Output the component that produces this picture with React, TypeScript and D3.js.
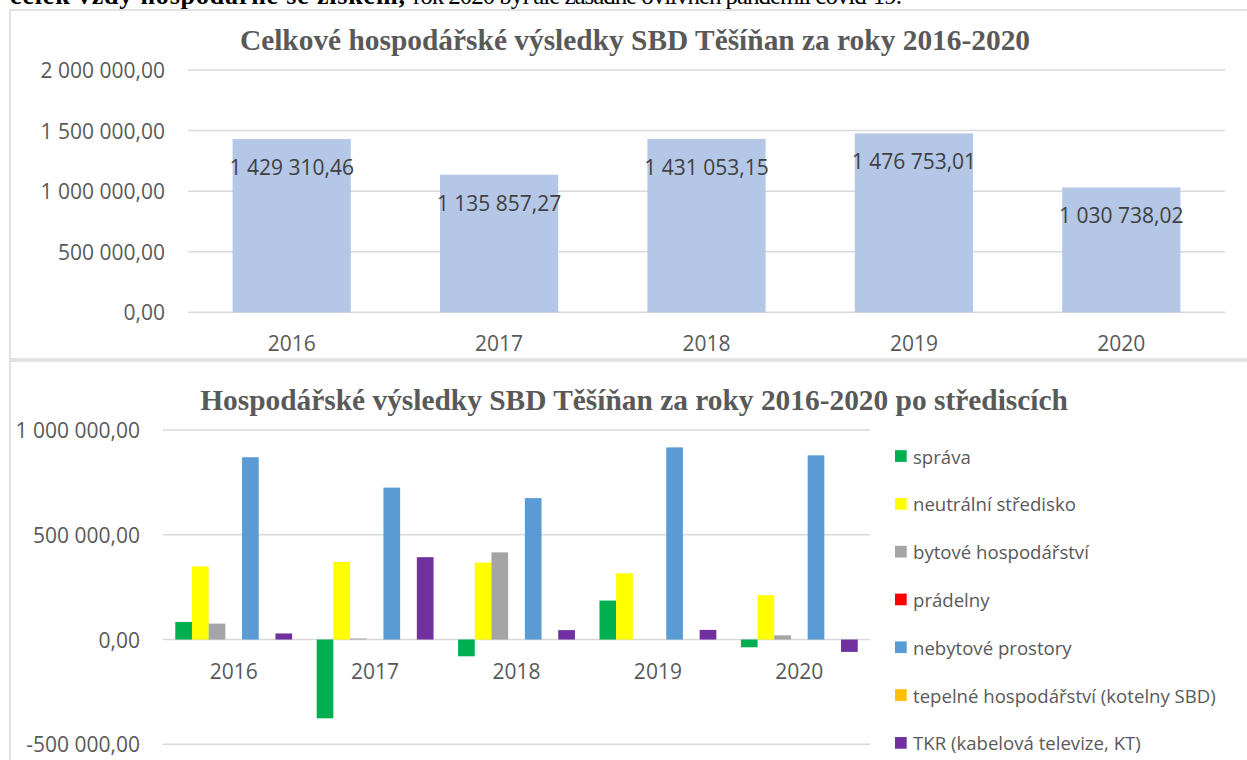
import * as d3 from "d3";

// roky
const years = ["2016", "2017", "2018", "2019", "2020"];

// celkový výsledek
const totals = [1429310.46, 1135857.27, 1431053.15, 1476753.01, 1030738.02];
const totalTicks = [0, 500000, 1000000, 1500000, 2000000];

// střediska
const centres = [
  "správa",
  "neutrální středisko",
  "bytové hospodářství",
  "prádelny",
  "nebytové prostory",
  "tepelné hospodářství (kotelny SBD)",
  "TKR (kabelová televize, KT)",
];
const centreColors = ["#00B050", "#FFFF00", "#A5A5A5", "#FF0000", "#5B9BD5", "#FFC000", "#7030A0"];
const sprava = [84000, -376000, -80000, 186000, -37000];
const neutralni = [349000, 370000, 367000, 316000, 212000];
const bytove = [76000, 5000, 416000, 0, 20000];
const pradelny = [0, 0, 0, 0, 0];
const nebytove = [870000, 725000, 675000, 917000, 879000];
const tepelne = [0, 0, 0, 0, 0];
const tkr = [29000, 393000, 45000, 46000, -59000];
const centreTicks = [-500000, 0, 500000, 1000000];

const W = 1247;
const H = 760;
const grid = "#D9D9D9";
const txt = "#595959";
const sans = "'Open Sans', sans-serif";
const serif = "'Liberation Serif', 'Times New Roman', serif";
const fs = 21; // čísla, roky
const fsLeg = 18.6;
const fsTitle = 29.4;

const cz = d3.formatLocale({ decimal: ",", thousands: "\u00a0", grouping: [3], currency: ["", ""], minus: "-" });
const fmt = cz.format(",.2f");

export default function App() {
  // horní graf
  const x1 = d3.scaleBand().domain(years).range([188, 1225]).paddingInner(0.43).paddingOuter(0.215);
  const y1 = d3.scaleLinear().domain([0, 2000000]).range([312.3, 70]);

  // dolní graf
  const series = [sprava, neutralni, bytove, pradelny, nebytove, tepelne, tkr];
  const x2 = d3.scaleBand().domain(years).range([163, 870]);
  const xs = d3.scaleBand().domain(centres).range([0, x2.bandwidth()]).paddingOuter(0.735);
  const y2 = d3.scaleLinear().domain([-500000, 1000000]).range([744.3, 430]);

  return (
    <svg width={W} height={H} style={{ position: "absolute", left: 0, top: 0, background: "#fff" }}>
      {/* konec odstavce nad grafem (oříznutý) */}
      <text x={10} y={4} fontFamily={serif} fontWeight="bold" fontSize={26} fill="#000" textLength={395} lengthAdjust="spacing">
        celek vždy hospodárně se ziskem,
      </text>
      <text x={413} y={4} fontFamily={serif} fontSize={25} fill="#000" textLength={489} lengthAdjust="spacing">
        rok 2020 byl ale zásadně ovlivněn pandemií covid-19.
      </text>

      {/* rámečky */}
      <rect x={10} y={10} width={W} height={349} fill="#fff" stroke={grid} strokeWidth={1.5} />
      <rect x={10} y={361} width={W} height={420} fill="#fff" stroke={grid} strokeWidth={1.5} />

      {/* ---- horní graf ---- */}
      <text x={635} y={40} textAnchor="middle" dominantBaseline="central" fontFamily={serif} fontWeight="bold" fontSize={fsTitle} fill={txt}>
        Celkové hospodářské výsledky SBD Těšíňan za roky 2016-2020
      </text>
      {totalTicks.map((t) => (
        <g key={t}>
          <line x1={188} x2={1225} y1={y1(t)} y2={y1(t)} stroke={grid} strokeWidth={1.5} />
          <text x={165} y={y1(t)} textAnchor="end" dominantBaseline="central" fontFamily={sans} fontSize={fs} fill={txt}>
            {fmt(t)}
          </text>
        </g>
      ))}
      {years.map((yr, i) => (
        <g key={yr}>
          <rect x={x1(yr)} y={y1(totals[i])} width={x1.bandwidth()} height={y1(0) - y1(totals[i])} fill="#B4C7E7" />
          <text x={x1(yr)! + x1.bandwidth() / 2} y={y1(totals[i]) + 28} textAnchor="middle" dominantBaseline="central" fontFamily={sans} fontSize={fs} fill="#404040">
            {fmt(totals[i])}
          </text>
          <text x={x1(yr)! + x1.bandwidth() / 2} y={343} textAnchor="middle" dominantBaseline="central" fontFamily={sans} fontSize={fs} fill={txt}>
            {yr}
          </text>
        </g>
      ))}

      {/* ---- dolní graf ---- */}
      <text x={634} y={400} textAnchor="middle" dominantBaseline="central" fontFamily={serif} fontWeight="bold" fontSize={fsTitle} fill={txt}>
        Hospodářské výsledky SBD Těšíňan za roky 2016-2020 po střediscích
      </text>
      {centreTicks.map((t) => (
        <g key={t}>
          <line x1={163} x2={870} y1={y2(t)} y2={y2(t)} stroke={grid} strokeWidth={1.5} />
          <text x={140} y={y2(t)} textAnchor="end" dominantBaseline="central" fontFamily={sans} fontSize={fs} fill={txt}>
            {fmt(t)}
          </text>
        </g>
      ))}
      {years.map((yr, i) => (
        <g key={yr} transform={`translate(${x2(yr)},0)`}>
          {series.map((s, j) =>
            s[i] === 0 ? null : (
              <rect
                key={j}
                x={xs(centres[j])}
                y={y2(Math.max(0, s[i]))}
                width={xs.bandwidth()}
                height={Math.abs(y2(s[i]) - y2(0))}
                fill={centreColors[j]}
              />
            )
          )}
          <text x={x2.bandwidth() / 2} y={670.7} textAnchor="middle" dominantBaseline="central" fontFamily={sans} fontSize={fs} fill={txt}>
            {yr}
          </text>
        </g>
      ))}

      {/* legenda */}
      {centres.map((c, j) => (
        <g key={c} transform={`translate(895,${456 + j * 47.8})`}>
          <rect x={0} y={-5.8} width={11.7} height={11.7} fill={centreColors[j]} />
          <text x={18} y={0} dominantBaseline="central" fontFamily={sans} fontSize={fsLeg} fill={txt}>
            {c}
          </text>
        </g>
      ))}
    </svg>
  );
}
